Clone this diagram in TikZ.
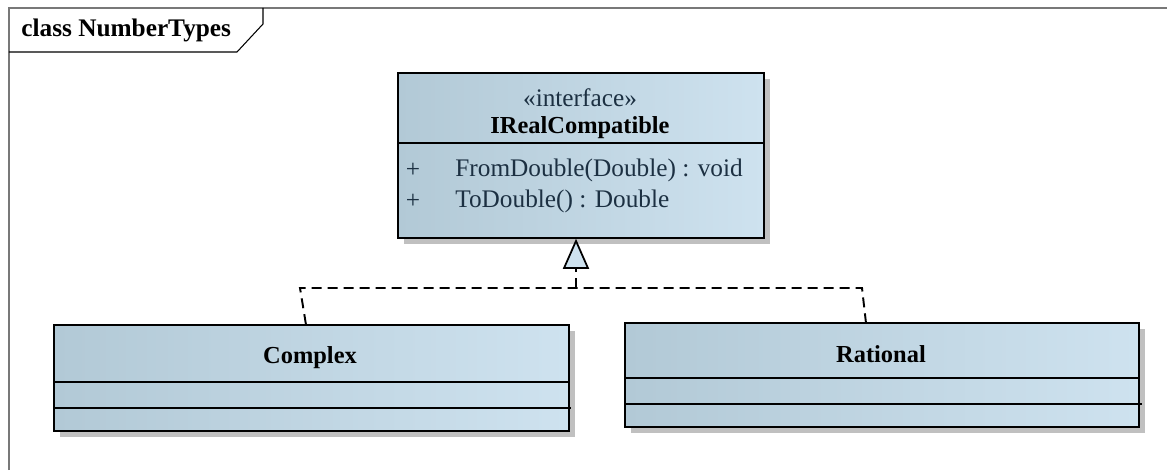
\documentclass[tikz,border=0pt]{standalone}
\usepackage{fontspec}
\setmainfont{Liberation Serif}
\usepackage{tikz}
\usetikzlibrary{arrows.meta}
\usetikzlibrary{positioning}

\definecolor{boxleft}{RGB}{178,201,214}
\definecolor{boxright}{RGB}{206,226,239}
\definecolor{shadowgray}{RGB}{192,192,192}
\definecolor{opstext}{RGB}{28,48,66}
\definecolor{framegray}{RGB}{120,120,120}
\newcommand{\umlfont}{\fontsize{14.4}{17}\selectfont}
\newcommand{\umlnamefont}{\fontsize{13.9}{17}\selectfont\bfseries}

\tikzset{
  umlbox/.style={draw=black, line width=1pt, left color=boxleft, right color=boxright, inner sep=0pt, anchor=north west},
  umlshadow/.style={fill=shadowgray, draw=none},
  umltext/.style={font=\umlfont, inner sep=0pt},
  realize/.style={line width=1.1pt, dash pattern=on 0.2cm off 0.12cm},
}

\begin{document}
\begin{tikzpicture}
\useasboundingbox (0,0) rectangle (23.34,9.4);
\draw[framegray,line width=1.1pt] (0.18,0) -- (0.18,9.24) -- (23.34,9.24);
\draw[black,line width=0.6pt] (0.18,8.36) -- (4.74,8.36) -- (5.26,8.92) -- (5.26,9.24);
\node[umltext,font=\umlfont\bfseries,anchor=west] (title) at (0.42,8.80) {class NumberTypes};

\draw[umlshadow] (8.07,4.53) rectangle (15.39,7.83);
\node[umlbox,minimum width=7.32cm,minimum height=3.30cm] (iface) at (7.94,7.96) {};
\draw[line width=1pt] (7.94,6.54) -- (15.26,6.54);
\node[umltext,text=opstext] (stereo) at (11.60,7.44) {«interface»};
\node[umltext,font=\umlnamefont] (ifacename) at (11.60,6.84) {IRealCompatible};
\node[umltext,text=opstext] (plusA) at (8.26,6.00) {+};
\node[umltext,text=opstext,anchor=west] (opA) at (9.10,6.00) {FromDouble(Double) : void};
\node[umltext,text=opstext] (plusB) at (8.26,5.38) {+};
\node[umltext,text=opstext,anchor=west] (opB) at (9.10,5.38) {ToDouble() : Double};

\draw[umlshadow] (1.19,0.67) rectangle (11.49,2.79);
\node[umlbox,minimum width=10.30cm,minimum height=2.12cm] (complex) at (1.06,2.92) {};
\draw[line width=1pt] (1.06,1.76) -- (11.36,1.76);
\draw[line width=1pt] (1.06,1.24) -- (11.42,1.24);
\node[umltext,font=\umlnamefont] (complexname) at (6.20,2.24) {Complex};

\draw[umlshadow] (12.61,0.75) rectangle (22.89,2.83);
\node[umlbox,minimum width=10.28cm,minimum height=2.08cm] (rational) at (12.48,2.96) {};
\draw[line width=1pt] (12.48,1.84) -- (22.76,1.84);
\draw[line width=1pt] (12.48,1.32) -- (22.84,1.32);
\node[umltext,font=\umlnamefont] (rationalname) at (17.62,2.32) {Rational};

\coordinate (bendL) at (6.00,3.64);
\coordinate (join) at (11.52,3.64);
\coordinate (bendR) at (17.24,3.64);
\draw[realize] ([xshift=-0.11cm]complex.north) -- (bendL) -- (bendR) -- ([xshift=-0.32cm]rational.north);
\draw[realize,-{Triangle[length=0.6cm,width=0.52cm,fill=boxright,line width=1pt]}] (join) -- (iface.south -| join);

\end{tikzpicture}
\end{document}
